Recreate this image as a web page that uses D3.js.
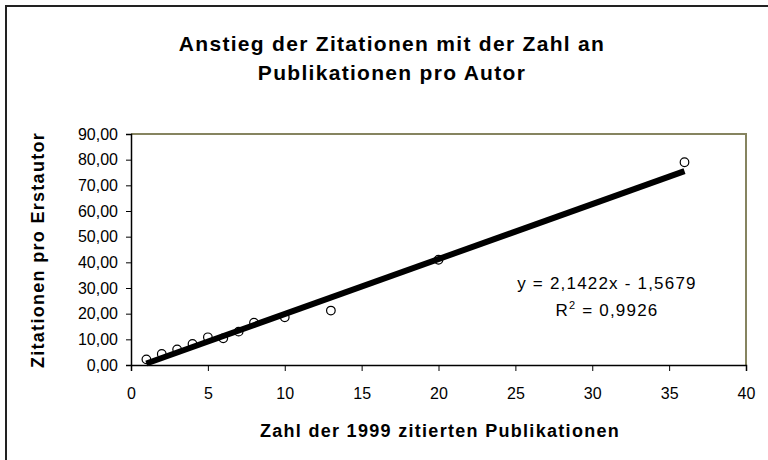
<!DOCTYPE html>
<html><head><meta charset="utf-8">
<script src="https://cdn.jsdelivr.net/npm/d3@7"></script>
<style>body{margin:0;background:#fff}svg{display:block}text{font-family:"Liberation Sans",Arial,sans-serif}</style>
</head><body><svg id="c" width="768" height="460"></svg>
<script>
const publications = [1, 2, 3, 4, 5, 6, 7, 8, 10, 13, 20, 36];
const citations = [2.2, 4.3, 6.1, 8.2, 10.8, 10.4, 13.0, 16.5, 18.6, 21.2, 41.0, 79.0];
const trendSlope = 2.1422;
const trendIntercept = -1.5679;
const rSquared = "0,9926";
const xTicks = [0, 5, 10, 15, 20, 25, 30, 35, 40];
const yTicks = [0, 10, 20, 30, 40, 50, 60, 70, 80, 90];
const titleLines = ["Anstieg der Zitationen mit der Zahl an", "Publikationen pro Autor"];
const xTitle = "Zahl der 1999 zitierten Publikationen";
const yTitle = "Zitationen pro Erstautor";

const svg = d3.select("#c");
const m = {l: 131, r: 746, t: 134, b: 365};
const x = d3.scaleLinear().domain([0, 40]).range([m.l, m.r]);
const y = d3.scaleLinear().domain([0, 90]).range([m.b, m.t]);
const fmt = v => d3.format(".2f")(v).replace(".", ",");

// outer frame (only left/top visible)
svg.append("path").attr("d", "M6,470V6H780").attr("fill", "none").attr("stroke", "#222").attr("stroke-width", 2);

// plot area border (top/right)
svg.append("path").attr("d", `M${m.l},${m.t}H${m.r}V${m.b}`).attr("fill", "none").attr("stroke", "#868460").attr("stroke-width", 2);

// axes
const xa = svg.append("g").attr("transform", `translate(0,${m.b})`)
  .call(d3.axisBottom(x).tickValues(xTicks).tickSize(6).tickPadding(17).tickFormat(d3.format("d")));
const ya = svg.append("g").attr("transform", `translate(${m.l},0)`)
  .call(d3.axisLeft(y).tickValues(yTicks).tickSize(5).tickPadding(8).tickFormat(fmt));
[xa, ya].forEach(a => {
  a.select(".domain").attr("stroke", "#000").attr("stroke-width", 1.5);
  a.selectAll(".tick line").attr("stroke", "#000");
  a.selectAll("text").attr("font-size", 16).attr("fill", "#000").attr("font-family", "'Liberation Sans',Arial,sans-serif").attr("letter-spacing", 0);
});
xa.selectAll("text").attr("dy", "0.71em");

// points
svg.append("g").selectAll("circle").data(publications).join("circle")
  .attr("cx", d => x(d)).attr("cy", (d, i) => y(citations[i])).attr("r", 4.3)
  .attr("fill", "none").attr("stroke", "#000").attr("stroke-width", 1.2);

// trend line
const xMin = d3.min(publications), xMax = d3.max(publications);
svg.append("line")
  .attr("x1", x(xMin)).attr("y1", y(trendSlope * xMin + trendIntercept))
  .attr("x2", x(xMax)).attr("y2", y(trendSlope * xMax + trendIntercept))
  .attr("stroke", "#000").attr("stroke-width", 6);

// title
svg.append("text").attr("text-anchor", "middle").attr("font-size", 21).attr("font-weight", "bold").attr("letter-spacing", 1.3).attr("fill", "#000")
  .selectAll("tspan").data(titleLines).join("tspan").attr("x", 392).attr("y", (d, i) => 51 + i * 29).text(d => d);

// equation
const eq = svg.append("g").attr("font-size", 17).attr("fill", "#000").attr("text-anchor", "middle").attr("letter-spacing", 1.2);
const sgn = trendIntercept < 0 ? " - " : " + ";
eq.append("text").attr("x", 607).attr("y", 289)
  .text("y = " + String(trendSlope).replace(".", ",") + "x" + sgn + String(Math.abs(trendIntercept)).replace(".", ","));
const r2 = eq.append("text").attr("x", 607).attr("y", 316);
r2.append("tspan").text("R");
r2.append("tspan").attr("dy", -7).attr("font-size", 11).text("2");
r2.append("tspan").attr("dy", 7).text(" = " + rSquared);

// axis titles
svg.append("text").attr("x", 440).attr("y", 437).attr("text-anchor", "middle").attr("font-size", 18).attr("font-weight", "bold").attr("letter-spacing", 1.3).attr("fill", "#000").text(xTitle);
svg.append("text").attr("transform", "translate(44,250) rotate(-90)").attr("text-anchor", "middle").attr("font-size", 18).attr("font-weight", "bold").attr("letter-spacing", 1.3).attr("fill", "#000").text(yTitle);
</script></body></html>
